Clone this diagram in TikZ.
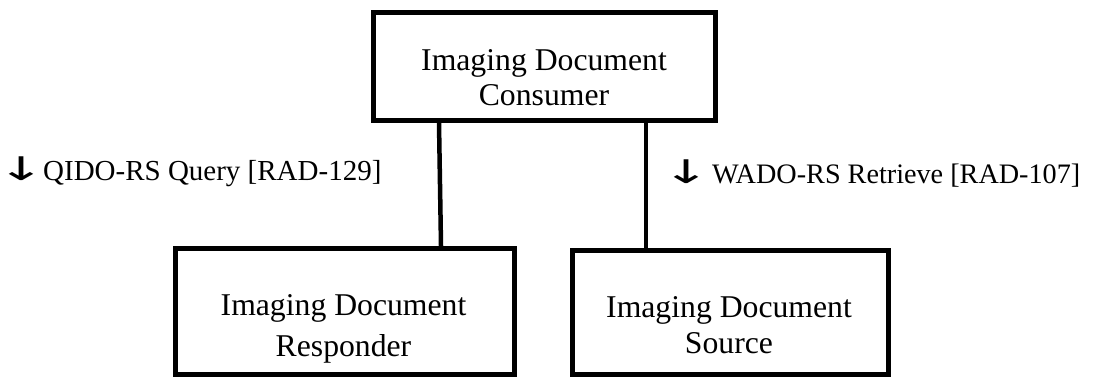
\documentclass[tikz,border=0pt]{standalone}
\usepackage{graphicx}
\usepackage{fontspec}
\setmainfont{Liberation Serif}
\newfontfamily\arrowfont{DejaVu Sans}
\newcommand{\dnarrow}[2]{\makebox[#1][c]{\arrowfont\fontsize{37pt}{39pt}\selectfont\scalebox{1.55}[0.88]{\makebox[0.33em][c]{↓}}}\hspace{#2}}
\begin{document}
\begin{tikzpicture}[x=1pt,y=-1pt,
  actorbox/.style={draw=black, line width=5pt, fill=none, inner sep=0pt, outer sep=2.5pt},
  boxtext/.style={align=center, anchor=base, inner sep=0pt,
    font=\fontsize{31.7pt}{35.5pt}\selectfont},
  txlabel/.style={anchor=base west, inner sep=0pt},
  link/.style={line width=4.5pt, line cap=butt}]
\useasboundingbox (0,0) rectangle (1097,377);
% boxes
\node[actorbox, minimum width=342pt, minimum height=108pt] (cons) at (544.5,66.5) {};
\node[actorbox, minimum width=339pt, minimum height=126pt] (resp) at (345,311.5) {};
\node[actorbox, minimum width=316pt, minimum height=124pt] (src) at (730.5,312.5) {};
% texts (base anchor = baseline of the last line)
\node[boxtext, font=\fontsize{31.7pt}{35pt}\selectfont] (constext) at (544,106) {Imaging Document\\Consumer};
\node[boxtext, font=\fontsize{31.7pt}{41pt}\selectfont] (resptext) at (343.5,356) {Imaging Document\\Responder};
\node[boxtext, font=\fontsize{31.7pt}{36pt}\selectfont] (srctext) at (729,353) {Imaging Document\\Source};
% connectors
\coordinate (qtop) at (439,0);
\coordinate (qbot) at (441,0);
\coordinate (wx) at (646,0);
\draw[link] (cons.south -| qtop) -- (resp.north -| qbot);
\draw[link] (cons.south -| wx) -- (src.north -| wx);
% labels
\node[txlabel, font=\fontsize{29pt}{34pt}\selectfont] (qido) at (10,180)
  {\dnarrow{22pt}{11pt}QIDO-RS Query [RAD-129]};
\node[txlabel, font=\fontsize{28.2pt}{34pt}\selectfont] (wado) at (676,183)
  {\dnarrow{21pt}{15pt}WADO-RS Retrieve [RAD-107]};
\end{tikzpicture}
\end{document}
